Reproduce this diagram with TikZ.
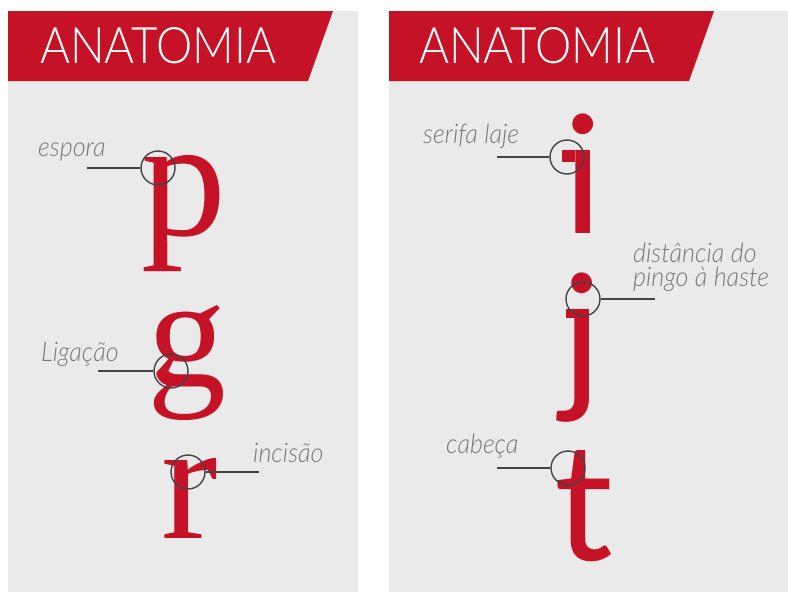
\documentclass[tikz,border=0pt]{standalone}
\usepackage{fontspec}
\usetikzlibrary{positioning}
\IfFontExistsTF{Lato Light}{\newfontfamily\bannerfont{Lato Light}}{\newfontfamily\bannerfont{Lato}}
\IfFontExistsTF{Lato Light Italic}{\newfontfamily\labelfont{Lato Light Italic}}{\newfontfamily\labelfont{Open Sans Italic}}
\newfontfamily\seriffont{Liberation Serif}
\newfontfamily\glyphfont{Lato}
\newcommand{\tagline}[1]{\scalebox{0.93}[1]{#1}}
\definecolor{anared}{RGB}{198,18,38}
\definecolor{panelgray}{RGB}{234,234,234}
\definecolor{labelgray}{RGB}{120,120,120}
\definecolor{ringgray}{RGB}{68,68,68}

\begin{document}
\begin{tikzpicture}[x=1pt,y=-1pt,
  banner/.style={fill=anared,draw=none},
  title/.style={text=white,font=\bannerfont\fontsize{50}{50}\selectfont,anchor=base west,inner sep=0pt},
  serifglyph/.style={text=anared,font=\seriffont\fontsize{170}{170}\selectfont,anchor=base,inner sep=0pt},
  sansglyph/.style={text=anared,font=\glyphfont\fontsize{164}{164}\selectfont,anchor=base,inner sep=0pt},
  tag/.style={text=labelgray,font=\labelfont\fontsize{27}{24}\selectfont,anchor=base west,inner sep=0pt,align=left},
  ring/.style={circle,draw=ringgray,line width=1.4pt,minimum size=34pt,inner sep=0pt},
  leader/.style={draw=ringgray,line width=1.2pt}]
  % panels
  \fill[white] (0,0) rectangle (788,592);
  \fill[panelgray] (8,11) rectangle (358,592);
  \fill[panelgray] (389,11) rectangle (788,592);
  \fill[banner] (8,11) -- (333,11) -- (308,81) -- (8,81) -- cycle;
  \fill[banner] (389,11) -- (714,11) -- (689,81) -- (389,81) -- cycle;
  \node[title] (titleLeft) at (40,63) {\resizebox{236pt}{36pt}{ANATOMIA}};
  \node[title] (titleRight) at (419,63) {\resizebox{236pt}{36pt}{ANATOMIA}};
  % letters
  \node[serifglyph] (pGlyph) at (184,235) {p};
  \node[serifglyph,font=\seriffont\fontsize{158}{158}\selectfont] (gGlyph) at (187,386) {g};
  \node[serifglyph] (rGlyph) at (190,538) {r};
  \node[sansglyph] (iGlyph) at (583,233) {i};
  \fill[anared] (562,150) rectangle (575,162);
  \node[sansglyph] (jGlyph) at (582,392) {j};
  \fill[anared] (566,309) rectangle (580,318);
  \node[sansglyph] (tGlyph) at (584,560) {t};
  % callouts, left
  \node[ring] (esporaRing) at (158,168) {};
  \coordinate (esporaEnd) at (87,168);
  \draw[leader] (esporaEnd) -- (esporaRing);
  \node[tag] (esporaTag) at (38,156) {\tagline{espora}};
  \node[ring] (ligacaoRing) at (171,371) {};
  \coordinate (ligacaoEnd) at (98,371);
  \draw[leader] (ligacaoEnd) -- (ligacaoRing);
  \node[tag] (ligacaoTag) at (41,361) {\tagline{Ligação}};
  \node[ring] (incisaoRing) at (188,472) {};
  \coordinate (incisaoEnd) at (259,472);
  \draw[leader] (incisaoRing) -- (incisaoEnd);
  \node[tag] (incisaoTag) at (253,462) {\tagline{incisão}};
  % callouts, right
  \node[ring] (serifaRing) at (567,157) {};
  \coordinate (serifaEnd) at (497,157);
  \draw[leader] (serifaEnd) -- (serifaRing);
  \node[tag] (serifaTag) at (423,143) {\tagline{serifa laje}};
  \node[ring] (pingoRing) at (583,299) {};
  \coordinate (pingoEnd) at (655,299);
  \draw[leader] (pingoRing) -- (pingoEnd);
  \node[tag] (pingoTag) at (633,286) {\tagline{distância do}\\\tagline{pingo à haste}};
  \node[ring] (cabecaRing) at (568,468) {};
  \coordinate (cabecaEnd) at (497,468);
  \draw[leader] (cabecaEnd) -- (cabecaRing);
  \node[tag] (cabecaTag) at (446,453) {\tagline{cabeça}};
\end{tikzpicture}
\end{document}
